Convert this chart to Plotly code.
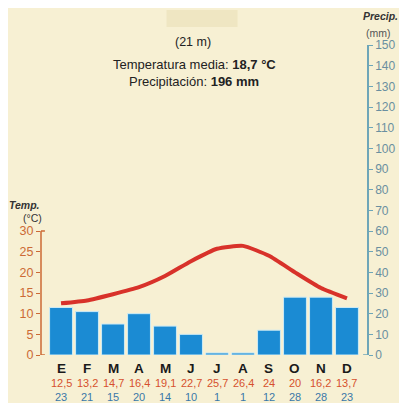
import plotly.graph_objects as go

months = ["E", "F", "M", "A", "M", "J", "J", "A", "S", "O", "N", "D"]
temps = [12.5, 13.2, 14.7, 16.4, 19.1, 22.7, 25.7, 26.4, 24, 20, 16.2, 13.7]
temp_labels = ["12,5", "13,2", "14,7", "16,4", "19,1", "22,7", "25,7", "26,4", "24", "20", "16,2", "13,7"]
precip = [23, 21, 15, 20, 14, 10, 1, 1, 12, 28, 28, 23]
temp_ticks = [0, 5, 10, 15, 20, 25, 30]
precip_ticks = list(range(0, 151, 10))

xs = list(range(len(months)))
BG = "#f7f0d3"
FONT = "Liberation Sans, Arial, sans-serif"
ORANGE = "#cc6a35"
RED = "#d8322a"
BLUE = "#1b8bd3"
AXBLUE = "#6ea6b8"

fig = go.Figure()
fig.add_trace(go.Bar(x=xs, y=precip, yaxis="y2", marker=dict(color=BLUE, line=dict(color="#cdebf5", width=1)),
                     width=0.88, showlegend=False, hoverinfo="skip"))
fig.add_trace(go.Scatter(x=xs, y=temps, yaxis="y", mode="lines",
                         line=dict(color=RED, width=4, shape="spline", smoothing=0.5),
                         showlegend=False, hoverinfo="skip"))

annotations = []
for i, m in enumerate(months):
    annotations.append(dict(x=i, y=-0.042, xref="x", yref="paper", text="<b>%s</b>" % m, showarrow=False,
                            font=dict(size=13.5, color="#1a1a1a", family=FONT), xanchor="center", yanchor="middle"))
    annotations.append(dict(x=i, y=-0.090, xref="x", yref="paper", text=temp_labels[i], showarrow=False,
                            font=dict(size=11, color="#d6502e", family=FONT), xanchor="center", yanchor="middle"))
    annotations.append(dict(x=i, y=-0.135, xref="x", yref="paper", text=str(precip[i]), showarrow=False,
                            font=dict(size=11, color="#3a78a8", family=FONT), xanchor="center", yanchor="middle"))

annotations += [
    dict(x=0.465, y=1.039, xref="paper", yref="paper", text="(21 m)", showarrow=False,
         font=dict(size=12.5, color="#222", family=FONT), xanchor="center"),
    dict(x=0.47, y=0.968, xref="paper", yref="paper", text="Temperatura media: <b>18,7 °C</b>", showarrow=False,
         font=dict(size=13, color="#222", family=FONT), xanchor="center"),
    dict(x=0.47, y=0.913, xref="paper", yref="paper", text="Precipitación: <b>196 mm</b>", showarrow=False,
         font=dict(size=13, color="#222", family=FONT), xanchor="center"),
    dict(x=-0.05, y=0.484, xref="paper", yref="paper", text="<b><i>Temp.</i></b>", showarrow=False,
         font=dict(size=10.5, color="#333", family=FONT), xanchor="center"),
    dict(x=-0.025, y=0.442, xref="paper", yref="paper", text="(°C)", showarrow=False,
         font=dict(size=10.5, color="#333", family=FONT), xanchor="center"),
    dict(x=1.0, y=1.119, xref="paper", yref="paper", text="<b><i>Precip.</i></b>", showarrow=False,
         font=dict(size=10.5, color="#333", family=FONT), xanchor="left", xshift=-6),
    dict(x=1.0, y=1.065, xref="paper", yref="paper", text="(mm)", showarrow=False,
         font=dict(size=10.5, color="#555", family=FONT), xanchor="left", xshift=-3),
]

shapes = [
    # covered name box
    dict(type="rect", xref="paper", yref="paper", x0=0.385, x1=0.603, y0=1.058, y1=1.113,
         fillcolor="#efe6c2", line=dict(width=0), layer="below"),
    # left axis spine (0-30 °C) with caps
    dict(type="line", xref="paper", yref="y", x0=0, x1=0, y0=0, y1=30, line=dict(color=ORANGE, width=1.5)),
    dict(type="line", xref="paper", yref="y", x0=0, x1=0.012, y0=30, y1=30, line=dict(color=ORANGE, width=1.5)),
    dict(type="line", xref="paper", yref="y", x0=0, x1=0.012, y0=0, y1=0, line=dict(color=ORANGE, width=1.5)),
    # right axis bottom cap
    dict(type="line", xref="paper", yref="y2", x0=0.988, x1=1, y0=0, y1=0, line=dict(color=AXBLUE, width=1.5)),
]

fig.update_layout(
    width=399, height=395,
    margin=dict(l=29, r=25, t=37, b=48),
    paper_bgcolor=BG, plot_bgcolor=BG,
    bargap=0.1,
    xaxis=dict(range=[-0.77, 11.77], showticklabels=False, showgrid=False, zeroline=False, showline=False,
               ticks=""),
    yaxis=dict(range=[0, 75], tickvals=temp_ticks, ticks="outside", ticklen=4, tickcolor=ORANGE, tickwidth=1.2,
               showgrid=False, zeroline=False, showline=False,
               tickfont=dict(size=12.5, color=ORANGE, family=FONT)),
    yaxis2=dict(range=[0, 150], tickvals=precip_ticks, overlaying="y", side="right", ticks="outside",
                ticklen=4, tickcolor=AXBLUE, tickwidth=1.2, showline=True, linecolor=AXBLUE, linewidth=1.5,
                showgrid=False, zeroline=False,
                tickfont=dict(size=12, color="#6a8fa0", family=FONT)),
    annotations=annotations,
    shapes=shapes,
)

fig.write_html("out.html")
